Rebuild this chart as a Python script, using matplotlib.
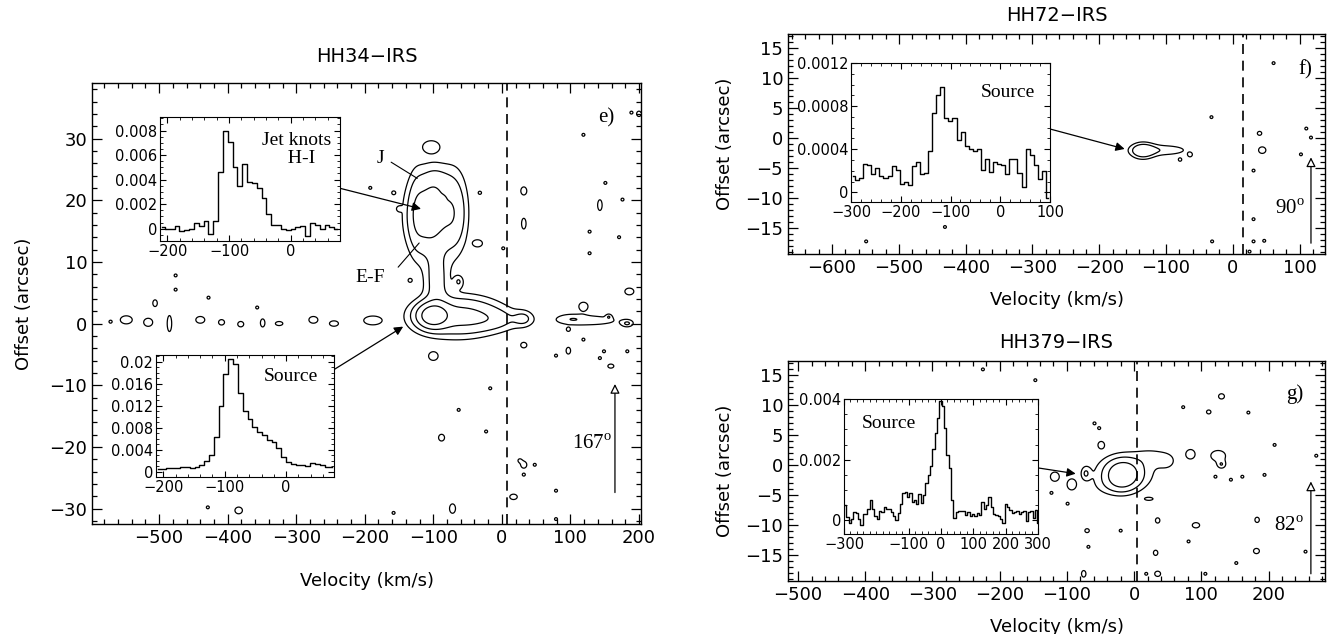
import numpy as np
import matplotlib; matplotlib.use('Agg')
from matplotlib import pyplot as plt
from matplotlib.ticker import MultipleLocator, FixedLocator

plt.rcParams['font.family'] = 'DejaVu Sans'
plt.rcParams['mathtext.fontset'] = 'custom'
plt.rcParams['mathtext.rm'] = 'Liberation Serif'
SERIF = 'Liberation Serif'

# ---------------- spectra shown in the insets ----------------
hh34_jet_v0, hh34_jet_dv = -212.0, 7.85
hh34_jet_flux = [0.0001, 0.0, 0.0, 0.0002, -0.0002, -0.0001, 0.0, 0.0005, 0.0002, 0.0006,
                 -0.0004, 0.0006, 0.0046, 0.008, 0.0071, 0.005, 0.0035, 0.0053, 0.0038, 0.0037,
                 0.0033, 0.0025, 0.0012, 0.0003, 0.0003, 0.0, -0.0001, 0.0, 0.0001, 0.0002,
                 -0.0006, 0.0005, 0.0003, 0.0, 0.0003, 0.0001, 0.0]
hh34_src_v0, hh34_src_dv = -212.0, 7.85
hh34_src_flux = [0.0005, 0.0005, 0.0007, 0.0006, 0.0007, 0.0008, 0.0009, 0.0007, 0.0008, 0.0012,
                 0.0019, 0.003, 0.0063, 0.012, 0.0178, 0.0205, 0.0195, 0.0143, 0.011, 0.0095,
                 0.0081, 0.0072, 0.0066, 0.0058, 0.0053, 0.0043, 0.0027, 0.0018, 0.0014, 0.0012,
                 0.0011, 0.001, 0.0016, 0.0014, 0.0011, 0.0009, 0.0008]
hh72_src_v0, hh72_src_dv = -300.0, 8.16
hh72_src_flux = [0.00015, 0.00011, 0.00013, 0.00026, 0.00025, 0.00017, 0.00023, 0.00015, 0.00013, 0.00015,
                 0.00024, 0.00021, 0.00008, 0.0001, 0.00007, 0.00024, 0.00028, 0.00017, 0.00018, 0.00038,
                 0.00074, 0.0009, 0.00098, 0.00069, 0.00066, 0.00069, 0.00049, 0.00056, 0.00043, 0.0004,
                 0.00038, 0.0004, 0.00021, 0.00031, 0.00019, 0.00028, 0.00026, 0.00025, 0.00017, 0.00031,
                 0.00031, 0.00018, 0.00005, 0.0004, 0.00035, 0.00025, 0.00012, 0.0002, -0.00005]
hh379_src_v0, hh379_src_dv = -300.0, 7.2
hh379_src_flux = [0.00049, 0.0001, -0.00008, 0.00003, 0.00026, 0.00023, 0.00003, -0.00014, 0.0002, 0.0002,
                  0.00037, 0.00066, 0.00037, 0.00015, 0.00003, 0.00032, 0.00026, 0.00043, 0.00037, 0.00037,
                  0.00028, 0.00015, 0.0, 0.00023, 0.00055, 0.00089, 0.00094, 0.00077, 0.00089, 0.0006,
                  0.00066, 0.00055, 0.00086, 0.00057, 0.00083, 0.00123, 0.00148, 0.0018, 0.00236, 0.00288,
                  0.00339, 0.00395, 0.00378, 0.00305, 0.00214, 0.00174, 0.00066, 0.00007, 0.00026, 0.00032,
                  0.00032, 0.0003, 0.00018, 0.00026, 0.00015, 0.0002, 0.00015, 0.00023, 0.00017, 0.0006,
                  0.00037, 0.00049, 0.00077, 0.00043, 0.0002, 0.00017, 0.00015, 0.00003, -0.00008, 0.00055,
                  0.00043, 0.00034, 0.00023, 0.00026, 0.0003, 0.0002, 0.00026, 0.0003, -0.00002, 0.00026,
                  0.0003, 0.00008, 0.00035, -0.0001]

# ---------------- position-velocity emission (components) ----------------
# extended emission: velocity, offset, velocity width, offset width, peak
hh34_v   = [-101, -55, -90, -5, -106, -95, -68, -95, 130, 100, -125]
hh34_y   = [1.3, 1.2, 1.0, 0.6, 17.5, 7.0, 18.0, 23.0, 0.5, 0.8, 18.0]
hh34_sv  = [14, 38, 45, 25, 21, 12, 13, 15, 40, 15, 8]
hh34_sy  = [1.2, 2.0, 2.6, 1.2, 4.2, 3.0, 4.5, 2.0, 0.8, 0.6, 4.5]
hh34_amp = [11.0, 4.0, 1.2, 1.3, 5.5, 2.5, 2.8, 1.2, 1.4, 1.0, 1.2]
# small knots: velocity, offset, velocity width, offset width
hh34_knot_v  = [-548, -516, -506, -485, -440, -409, -381, -349, -325, -275, -245, -189, -103, -63,
                -35, 32, 32, 32, 32, -100, -88, 32, 17, -72, -384, 143, 186, 119, 183, 97, 159, 200]
hh34_knot_y  = [0.6, 0.2, 3.3, 0.0, 0.6, 0.2, -0.1, 0.1, 0.0, 0.6, 0.0, 0.5, 28.7, 6.8,
                13.0, 21.5, 16.2, 0.8, -3.5, -5.3, -18.5, -22.9, -28.1, -30.0, -30.3, 19.2, 5.2, 2.8, 0.0, -4.4, -6.9, 34.0]
hh34_knot_sv = [8, 6, 3, 3, 6, 4, 4, 3, 5, 6, 6, 11, 10, 5,
                6, 4, 3, 10, 4, 6, 4, 4, 5, 4, 5, 3, 6, 6, 6, 3, 4, 3]
hh34_knot_sy = [0.6, 0.6, 0.5, 1.2, 0.5, 0.4, 0.4, 0.6, 0.3, 0.5, 0.4, 0.6, 0.8, 0.7,
                0.5, 0.6, 0.8, 0.9, 0.4, 0.6, 0.5, 0.5, 0.4, 0.7, 0.5, 0.8, 0.5, 0.6, 0.4, 0.5, 0.3, 0.4]
# single-pixel noise spikes
hh34_dot_v = [-571, -476, -476, -428, -357, -192, -158, -150, -134, -88, -32, 2, -17, -63, -23, 26, 32, 48,
              -158, -429, 79, 79, 119, 189, 151, 128, 128, 176, 171, 156, 97, 119, 79, 149, 143, 183]
hh34_dot_y = [0.3, 7.8, 5.5, 4.2, 2.6, 22.0, 21.2, 18.6, 7.0, 20.2, 21.2, 12.2, -10.5, -14.0, -17.5, -22.2, -24.5, -22.9,
              -30.7, -29.8, -27.1, -31.7, 30.6, 34.2, 22.8, 14.9, 11.4, 20.1, 14.0, 1.1, -1.0, -2.6, -5.2, -4.5, -5.6, -4.5]

hh72_v   = [-135, -105]
hh72_y   = [-2.2, -2.1]
hh72_sv  = [12, 30]
hh72_sy  = [0.9, 0.7]
hh72_amp = [3.2, 1.7]
hh72_knot_v  = [40, 44]
hh72_knot_y  = [0.7, -2.1]
hh72_knot_sv = [3, 5]
hh72_knot_sy = [0.3, 0.5]
hh72_dot_v = [61, -32, 110, 117, 102, 31, 31, 31, 47, -549, -431, -31, -64, -79, 25]
hh72_dot_y = [12.4, 3.4, 1.5, 0.0, -2.8, -5.5, -13.6, -17.3, -17.2, -17.3, -14.9, -17.3, -2.9, -3.7, -19.0]

hh379_v   = [-17, -15, 30, 50, -35]
hh379_y   = [-1.6, -1.3, 1.5, 0.5, -3.5]
hh379_sv  = [14, 30, 22, 10, 20]
hh379_sy  = [1.4, 2.2, 1.2, 1.0, 1.2]
hh379_amp = [6.0, 2.6, 1.0, 0.8, 0.6]
hh379_knot_v  = [84, 125, 130, -118, -72, -93, -49, 130, 111, 35, 92, 183, 182, -70, 32, -75, 35, 22]
hh379_knot_y  = [1.85, 1.6, 0.1, -1.9, -1.35, -3.2, 3.4, 11.5, 8.9, -9.2, -10.0, -9.1, -14.3, -10.9, -14.6, -18.1, -18.1, -5.6]
hh379_knot_sv = [6, 10, 5, 6, 5, 6, 4, 4, 3, 3, 5, 3, 4, 3, 3, 3, 4, 5]
hh379_knot_sy = [0.7, 0.8, 0.5, 0.7, 0.8, 0.8, 0.5, 0.4, 0.3, 0.4, 0.4, 0.4, 0.4, 0.3, 0.4, 0.5, 0.4, 0.2]
hh379_dot_v = [-225, -147, -59, -52, 73, 170, 209, 271, 121, 144, 161, 194, -123, -99, -20, 81, -68, 152, 255, 18, 106]
hh379_dot_y = [16.0, 14.2, 7.0, 6.2, 9.7, 8.8, 3.4, 1.6, -1.9, -2.4, -1.9, -1.6, -4.6, -6.4, -10.9, -12.7, -13.6, -16.3, -14.4, -18.1, -18.1]

hh34_levels = [1, 2, 4, 8]
hh72_levels = [1, 2]
hh379_levels = [1, 2, 4]


def pv_map(vgrid, ygrid, v, y, sv, sy, amp, kv, ky, ksv, ksy, dv, dy):
    z = np.zeros((len(ygrid), len(vgrid)))
    comps = list(zip(v, y, sv, sy, amp))
    comps += [(a, b, c, d, 1.8) for a, b, c, d in zip(kv, ky, ksv, ksy)]
    comps += [(a, b, 3.0, 0.32, 1.3) for a, b in zip(dv, dy)]
    for v0, y0, s_v, s_y, a in comps:
        gv = np.exp(-0.5 * ((vgrid - v0) / s_v) ** 2)
        gy = np.exp(-0.5 * ((ygrid - y0) / s_y) ** 2)
        z += a * np.outer(gy, gv)
    return z


def style_main(ax, xmaj, ymaj, yminor):
    ax.xaxis.set_major_locator(MultipleLocator(xmaj))
    ax.xaxis.set_minor_locator(MultipleLocator(20))
    ax.yaxis.set_major_locator(MultipleLocator(ymaj))
    ax.yaxis.set_minor_locator(MultipleLocator(yminor))
    ax.tick_params(which='both', direction='in', top=True, right=True, labelsize=13, width=0.9)
    ax.tick_params(which='major', length=7)
    ax.tick_params(which='minor', length=3.5)
    for s in ax.spines.values():
        s.set_linewidth(1.0)


def spectrum(ax, v0, dv, flux, xlim, ylim, yticks, ylabels, xticks):
    vel = v0 + dv * (np.arange(len(flux)) + 0.5)
    ax.set_facecolor('white')
    ax.step(vel, flux, where='mid', color='k', lw=1.0)
    ax.set_xlim(*xlim)
    ax.set_ylim(*ylim)
    ax.xaxis.set_major_locator(FixedLocator(xticks))
    ax.xaxis.set_minor_locator(MultipleLocator(20))
    ax.set_yticks(yticks)
    ax.set_yticklabels(ylabels)
    ax.yaxis.set_minor_locator(MultipleLocator((yticks[1] - yticks[0]) / 4))
    ax.tick_params(which='both', direction='in', top=True, right=True, labelsize=10.5, pad=2)
    ax.tick_params(which='major', length=4)
    ax.tick_params(which='minor', length=2)


fig = plt.figure(figsize=(13.28, 6.34), dpi=100)


def px_axes(x0, y0, x1, y1):
    return fig.add_axes([x0 / 1328, 1 - y1 / 634, (x1 - x0) / 1328, (y1 - y0) / 634])


arrow_kw = dict(arrowstyle='-|>', color='k', lw=0.9, mutation_scale=13, shrinkA=0, shrinkB=0)
open_kw = dict(arrowstyle='-|>', color='k', fc='white', lw=0.9, mutation_scale=14, shrinkA=0, shrinkB=0)

# ================= HH34 =================
ax_e = px_axes(92, 83, 641, 524)
vg = np.arange(-598, 204, 1.0)
yg = np.arange(-32.5, 39.05, 0.1)
z = pv_map(vg, yg, hh34_v, hh34_y, hh34_sv, hh34_sy, hh34_amp,
           hh34_knot_v, hh34_knot_y, hh34_knot_sv, hh34_knot_sy, hh34_dot_v, hh34_dot_y)
ax_e.contour(vg, yg, z, levels=hh34_levels, colors='k', linewidths=0.9)
ax_e.axvline(8, color='k', lw=1.2, dashes=(6, 4))
ax_e.set_xlim(-598, 203)
ax_e.set_ylim(-32.5, 39)
style_main(ax_e, 100, 10, 2)
ax_e.set_xlabel('Velocity (km/s)', fontsize=13, labelpad=18)
ax_e.set_ylabel('Offset (arcsec)', fontsize=13, labelpad=12)
ax_e.set_title('HH34\u2212IRS', fontsize=14, pad=15)
ax_e.text(153, 33.3, 'e)', family=SERIF, fontsize=15, ha='center', va='center')
ax_e.text(131, -19.6, r'167$^{\rm o}$', family=SERIF, fontsize=15, ha='center', va='center')
ax_e.annotate('', xy=(165, -9.8), xytext=(165, -27.4), arrowprops=open_kw)
ax_e.text(-177, 26.7, 'J', family=SERIF, fontsize=14, ha='center', va='center')
ax_e.annotate('', xy=(-120, 23.3), xytext=(-165, 26.4), arrowprops=dict(arrowstyle='-', lw=0.8))
ax_e.text(-192, 7.5, 'E-F', family=SERIF, fontsize=14, ha='center', va='center')
ax_e.annotate('', xy=(-118, 13.4), xytext=(-154, 8.8), arrowprops=dict(arrowstyle='-', lw=0.8))
ax_e.annotate('', xy=(-118, 18.6), xytext=(-260, 22.6), arrowprops=arrow_kw)
ax_e.annotate('', xy=(-144, -0.5), xytext=(-257, -8.3), arrowprops=arrow_kw)

in_e1 = px_axes(160, 117, 340, 241)
spectrum(in_e1, hh34_jet_v0, hh34_jet_dv, hh34_jet_flux, (-212, 80), (-0.001, 0.0091),
         [0, 0.002, 0.004, 0.006, 0.008], ['0', '0.002', '0.004', '0.006', '0.008'], [-200, -100, 0])
in_e1.text(0.76, 0.74, 'Jet knots\n  H-I', transform=in_e1.transAxes, family=SERIF,
           fontsize=14, ha='center', va='center', linespacing=1.1)

in_e2 = px_axes(156, 355, 334, 477)
spectrum(in_e2, hh34_src_v0, hh34_src_dv, hh34_src_flux, (-212, 78), (-0.001, 0.0212),
         [0, 0.004, 0.008, 0.012, 0.016, 0.02], ['0', '0.004', '0.008', '0.012', '0.016', '0.02'],
         [-200, -100, 0])
in_e2.text(0.76, 0.82, 'Source', transform=in_e2.transAxes, family=SERIF,
           fontsize=14, ha='center', va='center')

# ================= HH72 =================
ax_f = px_axes(788, 34, 1325, 254)
vg = np.arange(-666, 139, 1.0)
yg = np.arange(-19.4, 17.3, 0.08)
z = pv_map(vg, yg, hh72_v, hh72_y, hh72_sv, hh72_sy, hh72_amp,
           hh72_knot_v, hh72_knot_y, hh72_knot_sv, hh72_knot_sy, hh72_dot_v, hh72_dot_y)
ax_f.contour(vg, yg, z, levels=hh72_levels, colors='k', linewidths=0.9)
ax_f.axvline(15, color='k', lw=1.2, dashes=(6, 4))
ax_f.set_xlim(-666, 138)
ax_f.set_ylim(-19.4, 17.25)
style_main(ax_f, 100, 5, 1)
ax_f.set_xlabel('Velocity (km/s)', fontsize=13, labelpad=10)
ax_f.set_ylabel('Offset (arcsec)', fontsize=13, labelpad=8)
ax_f.set_title('HH72\u2212IRS', fontsize=14, pad=9)
ax_f.text(109, 11.3, 'f)', family=SERIF, fontsize=15, ha='center', va='center')
ax_f.text(86, -12, r'90$^{\rm o}$', family=SERIF, fontsize=15, ha='center', va='center')
ax_f.annotate('', xy=(117, -3.3), xytext=(117, -17.6), arrowprops=open_kw)
ax_f.annotate('', xy=(-162, -1.9), xytext=(-293, 2.0), arrowprops=arrow_kw)

in_f = px_axes(851, 63, 1050, 202)
spectrum(in_f, hh72_src_v0, hh72_src_dv, hh72_src_flux, (-300, 100), (-0.00009, 0.0012),
         [0, 0.0004, 0.0008, 0.0012], ['0', '0.0004', '0.0008', '0.0012'], [-300, -200, -100, 0, 100])
in_f.text(0.79, 0.79, 'Source', transform=in_f.transAxes, family=SERIF,
          fontsize=14, ha='center', va='center')

# ================= HH379 =================
ax_g = px_axes(788, 361, 1325, 581)
vg = np.arange(-515, 285, 1.0)
yg = np.arange(-19.3, 17.45, 0.08)
z = pv_map(vg, yg, hh379_v, hh379_y, hh379_sv, hh379_sy, hh379_amp,
           hh379_knot_v, hh379_knot_y, hh379_knot_sv, hh379_knot_sy, hh379_dot_v, hh379_dot_y)
ax_g.contour(vg, yg, z, levels=hh379_levels, colors='k', linewidths=0.9)
ax_g.axvline(5, color='k', lw=1.2, dashes=(6, 4))
ax_g.set_xlim(-515, 284)
ax_g.set_ylim(-19.3, 17.4)
style_main(ax_g, 100, 5, 1)
ax_g.set_xlabel('Velocity (km/s)', fontsize=13, labelpad=10)
ax_g.set_ylabel('Offset (arcsec)', fontsize=13, labelpad=8)
ax_g.set_title('HH379\u2212IRS', fontsize=14, pad=9)
ax_g.text(239, 11.8, 'g)', family=SERIF, fontsize=15, ha='center', va='center')
ax_g.text(230, -10.2, r'82$^{\rm o}$', family=SERIF, fontsize=15, ha='center', va='center')
ax_g.annotate('', xy=(263, -2.7), xytext=(263, -18.1), arrowprops=open_kw)
ax_g.annotate('', xy=(-87, -1.4), xytext=(-180, 0.2), arrowprops=arrow_kw)

in_g = px_axes(844, 399, 1038, 534)
spectrum(in_g, hh379_src_v0, hh379_src_dv, hh379_src_flux, (-300, 300), (-0.00045, 0.004),
         [0, 0.002, 0.004], ['0', '0.002', '0.004'], [-300, -100, 0, 100, 200, 300])
in_g.text(0.23, 0.82, 'Source', transform=in_g.transAxes, family=SERIF,
          fontsize=14, ha='center', va='center')

fig.savefig('out.png', dpi=100)
